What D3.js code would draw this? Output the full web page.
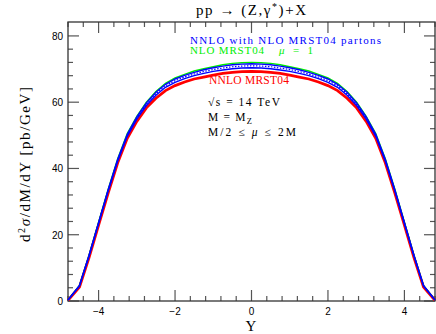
<!DOCTYPE html>
<html>
<head>
<meta charset="utf-8">
<script src="https://cdn.jsdelivr.net/npm/d3@7"></script>
<style>
  body { margin: 0; background: #fff; }
  svg { display: block; }
</style>
</head>
<body>
<div id="chart"></div>
<script>
const width = 436;
const height = 334;
const margin = { top: 22, right: 1, bottom: 33, left: 68 };

// rapidity grid and curves
const rapidity = [-4.8, -4.5, -4.25, -4, -3.75, -3.5, -3.25, -3, -2.75, -2.5, -2.25, -2, -1.75, -1.5, -1.25, -1, -0.75, -0.5, -0.25,
  0, 0.25, 0.5, 0.75, 1, 1.25, 1.5, 1.75, 2, 2.25, 2.5, 2.75, 3, 3.25, 3.5, 3.75, 4, 4.25, 4.5, 4.8];
const nnloNloHigh = [0.3, 4.7, 13.8, 23.7, 33.6, 42.8, 50.3, 55.6, 59.8, 63.0, 65.4, 67.0, 68.1, 69.0, 69.8, 70.4, 70.9, 71.3, 71.5,
  71.6, 71.5, 71.3, 70.9, 70.4, 69.8, 69.0, 68.1, 67.0, 65.4, 63.0, 59.8, 55.6, 50.3, 42.8, 33.6, 23.7, 13.8, 4.7, 0.3];
const nnloNloLow = [0.3, 4.5, 13.5, 23.3, 33.1, 42.2, 49.7, 54.9, 59.0, 62.1, 64.5, 66.0, 67.1, 68.0, 68.7, 69.3, 69.7, 70.1, 70.3,
  70.4, 70.3, 70.1, 69.7, 69.3, 68.7, 68.0, 67.1, 66.0, 64.5, 62.1, 59.0, 54.9, 49.7, 42.2, 33.1, 23.3, 13.5, 4.5, 0.3];
const nloMu1 = [0.3, 4.7, 13.8, 23.8, 33.7, 42.9, 50.5, 55.7, 60.0, 63.2, 65.7, 67.3, 68.4, 69.4, 70.1, 70.7, 71.3, 71.7, 71.9,
  72.0, 71.9, 71.7, 71.3, 70.7, 70.1, 69.4, 68.4, 67.3, 65.7, 63.2, 60.0, 55.7, 50.5, 42.9, 33.7, 23.8, 13.8, 4.7, 0.3];
const nnloMrst = [0.2, 4.2, 13.1, 22.9, 32.6, 41.7, 49.1, 54.2, 58.3, 61.2, 63.5, 65.0, 66.1, 67.0, 67.6, 68.2, 68.7, 69.0, 69.2,
  69.3, 69.2, 69.0, 68.7, 68.2, 67.6, 67.0, 66.1, 65.0, 63.5, 61.2, 58.3, 54.2, 49.1, 41.7, 32.6, 22.9, 13.1, 4.2, 0.2];

const xMajor = [-4, -2, 0, 2, 4];
const yMajor = [0, 20, 40, 60, 80];

const svg = d3.select("#chart").append("svg")
  .attr("width", width)
  .attr("height", height);

const x = d3.scaleLinear().domain([-4.8, 4.8]).range([margin.left, width - margin.right]);
const y = d3.scaleLinear().domain([0, 84.2]).range([height - margin.bottom, margin.top]);

const x0 = x.range()[0], x1 = x.range()[1];
const y0 = y.range()[0], y1 = y.range()[1];
const tickColor = "#555";

// minor / major ticks on all four sides
const xMinor = d3.range(-4.8, 4.81, 0.4).filter(v => !xMajor.some(m => Math.abs(m - v) < 1e-6));
const yMinor = d3.range(0, 84, 4).filter(v => v % 20 !== 0);

function xTicks(vals, len) {
  const g = svg.append("g").attr("stroke", tickColor).attr("stroke-width", 1.2);
  vals.forEach(v => {
    g.append("line").attr("x1", x(v)).attr("x2", x(v)).attr("y1", y0).attr("y2", y0 - len);
    g.append("line").attr("x1", x(v)).attr("x2", x(v)).attr("y1", y1).attr("y2", y1 + len);
  });
}
function yTicks(vals, len) {
  const g = svg.append("g").attr("stroke", tickColor).attr("stroke-width", 1.2);
  vals.forEach(v => {
    g.append("line").attr("x1", x0).attr("x2", x0 + len).attr("y1", y(v)).attr("y2", y(v));
    g.append("line").attr("x1", x1).attr("x2", x1 - len).attr("y1", y(v)).attr("y2", y(v));
  });
}
xTicks(xMinor, 5);
xTicks(xMajor, 11);
yTicks(yMinor, 5);
yTicks(yMajor, 11);

// frame
svg.append("rect")
  .attr("x", x0).attr("y", y1)
  .attr("width", x1 - x0).attr("height", y0 - y1)
  .attr("fill", "none")
  .attr("stroke", "#333")
  .attr("stroke-width", 1.3);

// tick labels
svg.append("g")
  .selectAll("text")
  .data(xMajor)
  .join("text")
  .attr("x", d => x(d))
  .attr("y", 315)
  .attr("text-anchor", "middle")
  .attr("font-family", "Liberation Sans, Arial, sans-serif")
  .attr("font-size", 10)
  .text(d => d < 0 ? "\u2212" + Math.abs(d) : d);

svg.append("g")
  .selectAll("text")
  .data(yMajor)
  .join("text")
  .attr("x", 63)
  .attr("y", d => y(d) + 4)
  .attr("text-anchor", "end")
  .attr("font-family", "Liberation Sans, Arial, sans-serif")
  .attr("font-size", 10)
  .text(d => d);

// curves
const pts = vals => rapidity.map((r, i) => [r, vals[i]]);
const line = d3.line().x(d => x(d[0])).y(d => y(d[1]));
const plot = svg.append("g").attr("fill", "none");

plot.append("path").attr("d", line(pts(nnloMrst)))
  .attr("stroke", "#ff0000").attr("stroke-width", 2.8);
plot.append("path").attr("d", line(pts(nloMu1)))
  .attr("stroke", "#00ee00").attr("stroke-width", 1.4);
plot.append("path").attr("d", line(pts(nnloNloLow.map((v, i) => (v + nnloNloHigh[i]) / 2))))
  .attr("stroke", "#0000ff").attr("stroke-width", 1.2).attr("stroke-dasharray", "1.5,1.5");
plot.append("path").attr("d", line(pts(nnloNloHigh)))
  .attr("stroke", "#0000ff").attr("stroke-width", 1.4);
plot.append("path").attr("d", line(pts(nnloNloLow)))
  .attr("stroke", "#0000ff").attr("stroke-width", 1.4);

const serif = "Liberation Serif, Times New Roman, serif";

// title
svg.append("text")
  .attr("x", 196).attr("y", 15)
  .attr("font-family", serif)
  .attr("font-size", 15)
  .attr("textLength", 110).attr("lengthAdjust", "spacing")
  .html("pp \u2192 (Z,\u03b3<tspan dy='-5' font-size='10'>*</tspan><tspan dy='5'>)+X</tspan>");

// legend
svg.append("text")
  .attr("x", 190).attr("y", 43.5)
  .attr("font-family", serif).attr("font-size", 11)
  .attr("fill", "#0000ff")
  .attr("textLength", 191).attr("lengthAdjust", "spacing")
  .text("NNLO with NLO MRST04 partons");
svg.append("text")
  .attr("x", 190).attr("y", 54)
  .attr("font-family", serif).attr("font-size", 11)
  .attr("fill", "#00ee00")
  .attr("textLength", 74).attr("lengthAdjust", "spacing")
  .text("NLO MRST04");
svg.append("text")
  .attr("x", 279).attr("y", 54)
  .attr("font-family", serif).attr("font-size", 11)
  .attr("fill", "#00ee00")
  .attr("textLength", 34).attr("lengthAdjust", "spacing")
  .html("<tspan font-style='italic'>\u03bc</tspan> = 1");
svg.append("text")
  .attr("x", 209).attr("y", 84)
  .attr("font-family", serif).attr("font-size", 11.5)
  .attr("fill", "#ff0000")
  .attr("textLength", 80).attr("lengthAdjust", "spacing")
  .text("NNLO MRST04");

// parameters
const info = svg.append("g")
  .attr("font-family", serif).attr("font-size", 11.5)
  .attr("fill", "#000");
info.append("text").attr("x", 208).attr("y", 106)
  .attr("textLength", 72).attr("lengthAdjust", "spacing")
  .text("\u221as = 14 TeV");
info.append("text").attr("x", 208).attr("y", 121)
  .attr("textLength", 44).attr("lengthAdjust", "spacing")
  .html("M = M<tspan dy='3' font-size='8.5'>Z</tspan>");
info.append("text").attr("x", 208).attr("y", 136)
  .attr("textLength", 88).attr("lengthAdjust", "spacing")
  .html("M/2 \u2264 <tspan font-style='italic'>\u03bc</tspan> \u2264 2M");

// axis titles
svg.append("text")
  .attr("x", 251).attr("y", 331)
  .attr("text-anchor", "middle")
  .attr("font-family", serif).attr("font-size", 15)
  .text("Y");

svg.append("text")
  .attr("transform", "translate(30,242) rotate(-90)")
  .attr("font-family", serif).attr("font-size", 15)
  .attr("textLength", 155).attr("lengthAdjust", "spacing")
  .html("d<tspan dy='-5' font-size='10'>2</tspan><tspan dy='5' font-style='italic'>\u03c3</tspan>/dM/dY [pb/GeV]");
</script>
</body>
</html>
